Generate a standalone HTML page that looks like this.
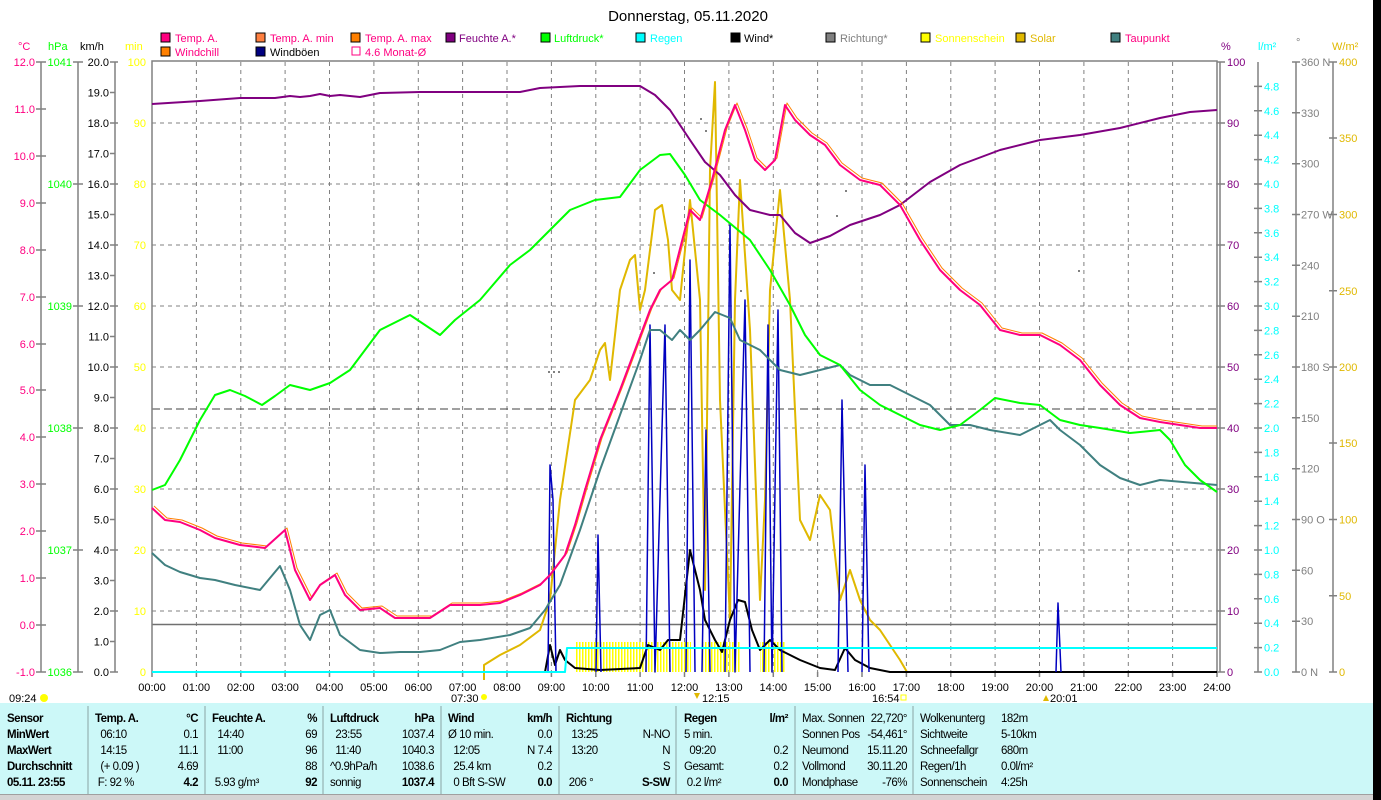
<!DOCTYPE html>
<html><head><meta charset="utf-8"><style>
html,body{margin:0;padding:0;background:#fff;}
body{width:1381px;height:800px;overflow:hidden;position:relative;font-family:"Liberation Sans",sans-serif;}
svg{position:absolute;left:0;top:0;}
.p{position:absolute;font-size:11.5px;letter-spacing:-0.5px;color:#000;white-space:nowrap;}
.b{font-weight:bold;}
.r{text-align:right;}
</style></head><body>
<svg width="1381" height="800" font-family="Liberation Sans, sans-serif" font-size="11">
<defs>
<pattern id="sun" width="3" height="30" patternUnits="userSpaceOnUse"><rect x="0" y="0" width="1.5" height="30" fill="#ffff00"/></pattern>
</defs>
<rect x="1373" y="0" width="8" height="800" fill="#000"/>
<text x="688" y="21" font-size="15" text-anchor="middle">Donnerstag, 05.11.2020</text>
<g font-size="11">
<rect x="161" y="33" width="9" height="9" fill="#ff0080" stroke="#000"/><text x="175" y="42" fill="#ff0080">Temp. A.</text>
<rect x="256" y="33" width="9" height="9" fill="#ff8040" stroke="#000"/><text x="270" y="42" fill="#ff0080">Temp. A. min</text>
<rect x="351" y="33" width="9" height="9" fill="#ff8000" stroke="#000"/><text x="365" y="42" fill="#ff0080">Temp. A. max</text>
<rect x="446" y="33" width="9" height="9" fill="#800080" stroke="#000"/><text x="459" y="42" fill="#800080">Feuchte A.*</text>
<rect x="541" y="33" width="9" height="9" fill="#00ff00" stroke="#000"/><text x="554" y="42" fill="#00ff00">Luftdruck*</text>
<rect x="636" y="33" width="9" height="9" fill="#00ffff" stroke="#000"/><text x="650" y="42" fill="#00ffff">Regen</text>
<rect x="731" y="33" width="9" height="9" fill="#000" stroke="#000"/><text x="744" y="42" fill="#000">Wind*</text>
<rect x="826" y="33" width="9" height="9" fill="#808080" stroke="#000"/><text x="840" y="42" fill="#808080">Richtung*</text>
<rect x="921" y="33" width="9" height="9" fill="#ffff00" stroke="#000"/><text x="935" y="42" fill="#ffff00">Sonnenschein</text>
<rect x="1016" y="33" width="9" height="9" fill="#e0b800" stroke="#000"/><text x="1030" y="42" fill="#e0b800">Solar</text>
<rect x="1111" y="33" width="9" height="9" fill="#408080" stroke="#000"/><text x="1125" y="42" fill="#ff0080">Taupunkt</text>
<rect x="161" y="47" width="9" height="9" fill="#ff8000" stroke="#000"/><text x="175" y="56" fill="#ff0080">Windchill</text>
<rect x="256" y="47" width="9" height="9" fill="#000080" stroke="#000"/><text x="270" y="56" fill="#000">Windböen</text>
<rect x="352" y="47" width="8" height="8" fill="none" stroke="#ff0080"/><text x="365" y="56" fill="#ff0080">4.6 Monat-Ø</text>
</g>
<text x="18" y="50" fill="#ff0080">°C</text><text x="48" y="50" fill="#00ff00">hPa</text><text x="80" y="50" fill="#000">km/h</text><text x="125" y="50" fill="#ffff00">min</text>
<text x="1221" y="50" fill="#800080">%</text><text x="1258" y="50" fill="#00ffff">l/m²</text><text x="1296" y="46" fill="#808080">°</text><text x="1332" y="50" fill="#e0b800">W/m²</text>
<g stroke="#808080" stroke-dasharray="4,4" stroke-width="1">
<path d="M152 123H1217M152 184H1217M152 245H1217M152 306H1217M152 367H1217M152 428H1217M152 489H1217M152 550H1217M152 611H1217"/>
<path d="M196.4 62V672M240.8 62V672M285.1 62V672M329.5 62V672M373.9 62V672M418.3 62V672M462.6 62V672M507 62V672M551.4 62V672M595.8 62V672M640.1 62V672M684.5 62V672M728.9 62V672M773.3 62V672M817.6 62V672M862 62V672M906.4 62V672M950.8 62V672M995.1 62V672M1039.5 62V672M1083.9 62V672M1128.3 62V672M1172.6 62V672"/>
</g>
<path d="M152 409H1217" stroke="#404040" stroke-dasharray="8,4"/>
<path d="M152 624.5H1217" stroke="#707070" stroke-width="1.5"/>
<g stroke="#808080" stroke-width="1.5" fill="none">
<path d="M152 672V61H1217V672"/>
<path d="M41 62V672M78 62V672M115 62V672M1258 62V672M1296 62V672M1333 62V672M1220 62V672"/>
<path d="M36 62h10M36 109h10M36 156h10M36 203h10M36 250h10M36 297h10M36 344h10M36 390h10M36 437h10M36 484h10M36 531h10M36 578h10M36 625h10M36 672h10"/>
<path d="M73 62h10M73 184h10M73 306h10M73 428h10M73 550h10M73 672h10"/>
<path d="M110 62h8M110 92.5h5M110 123h8M110 153.5h5M110 184h8M110 214.5h5M110 245h8M110 275.5h5M110 306h8M110 336.5h5M110 367h8M110 397.5h5M110 428h8M110 458.5h5M110 489h8M110 519.5h5M110 550h8M110 580.5h5M110 611h8M110 641.5h5M110 672h8"/>
<path d="M1217 62h8M1217 123h8M1217 184h8M1217 245h8M1217 306h8M1217 367h8M1217 428h8M1217 489h8M1217 550h8M1217 611h8M1217 672h8"/>
<path d="M1254 86.4h8M1254 110.8h8M1254 135.2h8M1254 159.6h8M1254 184h8M1254 208.4h8M1254 232.8h8M1254 257.2h8M1254 281.6h8M1254 306h8M1254 330.4h8M1254 354.8h8M1254 379.2h8M1254 403.6h8M1254 428h8M1254 452.4h8M1254 476.8h8M1254 501.2h8M1254 525.6h8M1254 550h8M1254 574.4h8M1254 598.8h8M1254 623.2h8M1254 647.6h8M1254 672h8"/>
<path d="M1292 62h8M1292 112.8h8M1292 163.7h8M1292 214.5h8M1292 265.3h8M1292 316.2h8M1292 367h8M1292 417.8h8M1292 468.7h8M1292 519.5h8M1292 570.3h8M1292 621.2h8M1292 672h8"/>
<path d="M1329 62h8M1329 138h8M1329 214.5h8M1329 290.8h8M1329 367h8M1329 443h8M1329 519.5h8M1329 595.8h8M1329 672h8"/>
<path d="M152 672v5M196.4 672v5M240.8 672v5M285.1 672v5M329.5 672v5M373.9 672v5M418.3 672v5M462.6 672v5M507 672v5M551.4 672v5M595.8 672v5M640.1 672v5M684.5 672v5M728.9 672v5M773.3 672v5M817.6 672v5M862 672v5M906.4 672v5M950.8 672v5M995.1 672v5M1039.5 672v5M1083.9 672v5M1128.3 672v5M1172.6 672v5M1217 672v5"/>
</g>
<g fill="#ff0080" text-anchor="end">
<text x="35" y="66">12.0</text><text x="35" y="113">11.0</text><text x="35" y="160">10.0</text><text x="35" y="207">9.0</text><text x="35" y="254">8.0</text><text x="35" y="301">7.0</text><text x="35" y="348">6.0</text><text x="35" y="394">5.0</text><text x="35" y="441">4.0</text><text x="35" y="488">3.0</text><text x="35" y="535">2.0</text><text x="35" y="582">1.0</text><text x="35" y="629">0.0</text><text x="35" y="676">-1.0</text>
</g>
<g fill="#00ff00" text-anchor="end">
<text x="72" y="66">1041</text><text x="72" y="188">1040</text><text x="72" y="310">1039</text><text x="72" y="432">1038</text><text x="72" y="554">1037</text><text x="72" y="676">1036</text>
</g>
<g fill="#000" text-anchor="end">
<text x="109" y="66">20.0</text><text x="109" y="96.5">19.0</text><text x="109" y="127">18.0</text><text x="109" y="157.5">17.0</text><text x="109" y="188">16.0</text><text x="109" y="218.5">15.0</text><text x="109" y="249">14.0</text><text x="109" y="279.5">13.0</text><text x="109" y="310">12.0</text><text x="109" y="340.5">11.0</text><text x="109" y="371">10.0</text><text x="109" y="401.5">9.0</text><text x="109" y="432">8.0</text><text x="109" y="462.5">7.0</text><text x="109" y="493">6.0</text><text x="109" y="523.5">5.0</text><text x="109" y="554">4.0</text><text x="109" y="584.5">3.0</text><text x="109" y="615">2.0</text><text x="109" y="645.5">1.0</text><text x="109" y="676">0.0</text>
</g>
<g fill="#ffff00" text-anchor="end">
<text x="146" y="66">100</text><text x="146" y="127">90</text><text x="146" y="188">80</text><text x="146" y="249">70</text><text x="146" y="310">60</text><text x="146" y="371">50</text><text x="146" y="432">40</text><text x="146" y="493">30</text><text x="146" y="554">20</text><text x="146" y="615">10</text><text x="146" y="676">0</text>
</g>
<g fill="#800080">
<text x="1227" y="66">100</text><text x="1227" y="127">90</text><text x="1227" y="188">80</text><text x="1227" y="249">70</text><text x="1227" y="310">60</text><text x="1227" y="371">50</text><text x="1227" y="432">40</text><text x="1227" y="493">30</text><text x="1227" y="554">20</text><text x="1227" y="615">10</text><text x="1227" y="676">0</text>
</g>
<g fill="#00ffff">
<text x="1264" y="90.4">4.8</text><text x="1264" y="114.8">4.6</text><text x="1264" y="139.2">4.4</text><text x="1264" y="163.6">4.2</text><text x="1264" y="188">4.0</text><text x="1264" y="212.4">3.8</text><text x="1264" y="236.8">3.6</text><text x="1264" y="261.2">3.4</text><text x="1264" y="285.6">3.2</text><text x="1264" y="310">3.0</text><text x="1264" y="334.4">2.8</text><text x="1264" y="358.8">2.6</text><text x="1264" y="383.2">2.4</text><text x="1264" y="407.6">2.2</text><text x="1264" y="432">2.0</text><text x="1264" y="456.4">1.8</text><text x="1264" y="480.8">1.6</text><text x="1264" y="505.2">1.4</text><text x="1264" y="529.6">1.2</text><text x="1264" y="554">1.0</text><text x="1264" y="578.4">0.8</text><text x="1264" y="602.8">0.6</text><text x="1264" y="627.2">0.4</text><text x="1264" y="651.6">0.2</text><text x="1264" y="676">0.0</text>
</g>
<g fill="#808080">
<text x="1301" y="66">360 N</text><text x="1301" y="116.8">330</text><text x="1301" y="167.7">300</text><text x="1301" y="218.5">270 W</text><text x="1301" y="269.3">240</text><text x="1301" y="320.2">210</text><text x="1301" y="371">180 S</text><text x="1301" y="421.8">150</text><text x="1301" y="472.7">120</text><text x="1301" y="523.5">90 O</text><text x="1301" y="574.3">60</text><text x="1301" y="625.2">30</text><text x="1301" y="676">0 N</text>
</g>
<g fill="#e0b800">
<text x="1339" y="66">400</text><text x="1339" y="142">350</text><text x="1339" y="218.5">300</text><text x="1339" y="294.8">250</text><text x="1339" y="371">200</text><text x="1339" y="447">150</text><text x="1339" y="523.5">100</text><text x="1339" y="599.8">50</text><text x="1339" y="676">0</text>
</g>
<g fill="#000" text-anchor="middle">
<text x="152" y="691">00:00</text><text x="196.4" y="691">01:00</text><text x="240.8" y="691">02:00</text><text x="285.1" y="691">03:00</text><text x="329.5" y="691">04:00</text><text x="373.9" y="691">05:00</text><text x="418.3" y="691">06:00</text><text x="462.6" y="691">07:00</text><text x="507" y="691">08:00</text><text x="551.4" y="691">09:00</text><text x="595.8" y="691">10:00</text><text x="640.1" y="691">11:00</text><text x="684.5" y="691">12:00</text><text x="728.9" y="691">13:00</text><text x="773.3" y="691">14:00</text><text x="817.6" y="691">15:00</text><text x="862" y="691">16:00</text><text x="906.4" y="691">17:00</text><text x="950.8" y="691">18:00</text><text x="995.1" y="691">19:00</text><text x="1039.5" y="691">20:00</text><text x="1083.9" y="691">21:00</text><text x="1128.3" y="691">22:00</text><text x="1172.6" y="691">23:00</text><text x="1217" y="691">24:00</text>
</g>
<g fill="#000">
<text x="9" y="702">09:24</text><circle cx="44" cy="698" r="4" fill="#ffff00"/>
<text x="451" y="702">07:30</text><circle cx="484" cy="697" r="3" fill="#ffff00"/>
<text x="702" y="702">12:15</text><path d="M694 693l3 6 3-6z" fill="#e0b800"/>
<text x="872" y="702">16:54</text><rect x="901" y="695" width="5" height="5" fill="none" stroke="#ffff00"/>
<text x="1050" y="702">20:01</text><path d="M1043 701l3-6 3 6z" fill="#e0b800"/>
</g>
<rect x="575" y="642" width="116" height="30" fill="url(#sun)"/>
<rect x="703" y="642" width="38" height="30" fill="url(#sun)"/>
<rect x="760" y="642" width="26" height="30" fill="url(#sun)"/>
<g fill="none" stroke-linejoin="round">
<polyline stroke="#e0b800" stroke-width="2" points="484,680 484,665 500,655 520,645 540,630 550,600 560,500 575,400 590,380 600,350 605,343 610,380 620,290 630,260 635,255 640,310 645,290 655,210 662,205 668,240 672,290 680,300 690,200 700,300 705,590 710,170 715,82 720,400 730,620 735,300 740,180 750,330 760,600 765,500 770,290 780,190 790,300 800,520 810,540 820,495 830,510 840,600 850,570 860,600 870,620 880,630 890,645 900,660 907,672"/>
<polyline stroke="#000" stroke-width="2" points="152,672 545,672 550,645 555,665 560,650 565,660 575,668 600,670 640,668 648,645 660,650 668,640 680,640 690,550 700,590 705,620 715,640 722,652 730,620 738,600 745,602 752,630 760,650 770,640 780,650 800,660 820,668 835,670 845,648 855,660 870,668 890,672 1217,672"/>
<g stroke="#0000c0" stroke-width="1.5">
<polyline points="548,672 550,465 553,500 556,672"/>
<polyline points="596,672 598,535 601,672"/>
<polyline points="646,672 650,325 655,672 665,325 670,672"/>
<polyline points="686,672 690,260 695,672"/>
<polyline points="702,672 706,430 710,672"/>
<polyline points="725,672 730,225 735,672 745,300 750,672"/>
<polyline points="764,672 768,325 772,672 778,310 782,672"/>
<polyline points="838,672 842,400 848,672"/>
<polyline points="862,672 865,465 869,672"/>
<polyline points="1056,672 1058,603 1061,672"/>
</g>
<polyline stroke="#00ffff" stroke-width="2" points="152,672 565,672 567,648 1217,648"/>
<polyline stroke="#408080" stroke-width="2" points="152,553 165,565 180,572 200,578 215,580 235,585 260,590 280,566 290,590 300,625 310,640 320,615 330,610 340,635 360,650 380,653 400,652 420,652 440,650 460,642 480,640 510,635 530,628 545,610 560,585 580,530 600,470 620,415 640,360 650,330 660,330 672,340 680,330 690,340 700,330 715,312 730,318 740,340 760,350 780,370 800,375 820,370 840,365 850,375 870,385 890,385 910,395 930,405 950,425 970,425 990,430 1020,435 1040,425 1050,420 1060,430 1080,445 1100,465 1120,478 1140,485 1160,480 1217,485"/>
<polyline stroke="#00ff00" stroke-width="2" points="152,490 165,485 180,460 200,420 215,395 230,390 245,396 262,405 275,396 290,385 310,390 330,383 350,370 365,350 380,330 400,320 410,315 425,325 440,335 455,320 480,300 510,265 530,250 550,230 570,210 595,200 620,197 640,170 660,155 670,154 685,175 700,200 720,215 750,240 770,270 790,305 805,335 820,355 840,365 860,390 880,405 900,415 920,425 940,430 960,425 980,410 995,398 1020,403 1040,405 1060,420 1080,425 1100,428 1130,433 1160,430 1170,440 1185,465 1200,480 1217,492"/>
<polyline stroke="#800080" stroke-width="2" points="152,104 200,101 240,98 275,98 290,96 300,97 310,96 320,94 330,96 340,95 360,97 380,93 420,92 520,92 540,88 580,86 640,86 655,95 670,110 690,140 705,162 720,175 735,195 750,210 770,215 780,215 795,233 810,243 830,236 850,225 880,215 900,205 930,182 960,165 1000,150 1040,140 1080,135 1120,128 1160,118 1190,112 1217,110"/>
<polyline stroke="#ff8000" stroke-width="1" points="154,506 167,518 182,520 202,528 217,536 242,543 267,546 287,528 297,568 312,598 322,583 337,573 347,593 362,608 382,606 397,616 432,616 452,603 482,603 502,601 522,593 542,583 552,573 567,553 577,523 587,488 602,438 622,388 637,348 652,308 662,288 674,278 692,208 702,218 714,178 727,128 737,103 747,128 757,158 767,168 777,158 787,103 797,118 812,133 827,143 842,163 862,178 882,183 902,203 922,238 942,268 962,288 982,303 1002,328 1022,333 1042,333 1062,343 1082,358 1102,383 1122,403 1142,416 1162,420 1202,426 1217,426"/>
<polyline stroke="#ff0080" stroke-width="2" points="152,508 165,520 180,522 200,530 215,538 240,545 265,548 285,530 295,570 310,600 320,585 335,575 345,595 360,610 380,608 395,618 430,618 450,605 480,605 500,603 520,595 540,585 550,575 565,555 575,525 585,490 600,440 620,390 635,350 650,310 660,290 672,280 690,210 700,220 712,180 725,130 735,105 745,130 755,160 765,170 775,160 785,105 795,120 810,135 825,145 840,165 860,180 880,185 900,205 920,240 940,270 960,290 980,305 1000,330 1020,335 1040,335 1060,345 1080,360 1100,385 1120,405 1140,418 1160,422 1200,428 1217,428"/>
</g>
<g fill="#808080">
<rect x="548" y="371" width="2" height="2"/><rect x="553" y="371" width="2" height="2"/><rect x="558" y="371" width="2" height="2"/>
<rect x="653" y="272" width="2" height="2"/><rect x="700" y="118" width="2" height="2"/><rect x="705" y="130" width="2" height="2"/>
<rect x="740" y="290" width="2" height="2"/><rect x="836" y="215" width="2" height="2"/><rect x="845" y="190" width="2" height="2"/>
<rect x="1078" y="270" width="2" height="2"/>
</g>
<rect x="0" y="703" width="1373" height="91" fill="#ccf8f8"/>
<g stroke="#a0c0c0" stroke-width="1.5"><path d="M88 706V794M205 706V794M323 706V794M441 706V794M559 706V794M676 706V794M795 706V794M913 706V794"/></g>
<rect x="0" y="794" width="1373" height="6" fill="#d4d4d4"/>
<path d="M0 794.5H1373" stroke="#a0a0a0"/>
</svg>
<div class="p b" style="left:7px;top:711px;line-height:16px">Sensor<br>MinWert<br>MaxWert<br>Durchschnitt<br>05.11. 23:55</div>
<div class="p" style="left:95px;top:711px;line-height:16px"><b>Temp. A.</b><br>&nbsp; 06:10<br>&nbsp; 14:15<br>&nbsp; (+ 0.09 )<br>&nbsp;F: 92 %</div>
<div class="p r" style="left:150px;width:48px;top:711px;line-height:16px"><b>°C</b><br>0.1<br>11.1<br>4.69<br><b>4.2</b></div>
<div class="p" style="left:212px;top:711px;line-height:16px"><b>Feuchte A.</b><br>&nbsp; 14:40<br>&nbsp; 11:00<br>&nbsp;<br>&nbsp;5.93 g/m³</div>
<div class="p r" style="left:270px;width:47px;top:711px;line-height:16px"><b>%</b><br>69<br>96<br>88<br><b>92</b></div>
<div class="p" style="left:330px;top:711px;line-height:16px"><b>Luftdruck</b><br>&nbsp; 23:55<br>&nbsp; 11:40<br>^0.9hPa/h<br>sonnig</div>
<div class="p r" style="left:385px;width:49px;top:711px;line-height:16px"><b>hPa</b><br>1037.4<br>1040.3<br>1038.6<br><b>1037.4</b></div>
<div class="p" style="left:448px;top:711px;line-height:16px"><b>Wind</b><br>Ø 10 min.<br>&nbsp; 12:05<br>&nbsp; 25.4 km<br>&nbsp; 0 Bft S-SW</div>
<div class="p r" style="left:505px;width:47px;top:711px;line-height:16px"><b>km/h</b><br>0.0<br>N 7.4<br>0.2<br><b>0.0</b></div>
<div class="p" style="left:566px;top:711px;line-height:16px"><b>Richtung</b><br>&nbsp; 13:25<br>&nbsp; 13:20<br>&nbsp;<br>&nbsp;206 °</div>
<div class="p r" style="left:620px;width:50px;top:711px;line-height:16px">&nbsp;<br>N-NO<br>N<br>S<br><b>S-SW</b></div>
<div class="p" style="left:684px;top:711px;line-height:16px"><b>Regen</b><br>5 min.<br>&nbsp; 09:20<br>Gesamt:<br>&nbsp;0.2 l/m²</div>
<div class="p r" style="left:740px;width:48px;top:711px;line-height:16px"><b>l/m²</b><br>&nbsp;<br>0.2<br>0.2<br><b>0.0</b></div>
<div class="p" style="left:802px;top:711px;line-height:16px">Max. Sonnen<br>Sonnen Pos<br>Neumond<br>Vollmond<br>Mondphase</div>
<div class="p r" style="left:850px;width:57px;top:711px;line-height:16px">22,720°<br>-54,461°<br>15.11.20<br>30.11.20<br>-76%</div>
<div class="p" style="left:920px;top:711px;line-height:16px">Wolkenunterg<br>Sichtweite<br>Schneefallgr<br>Regen/1h<br>Sonnenschein</div>
<div class="p" style="left:1001px;top:711px;line-height:16px">182m<br>5-10km<br>680m<br>0.0l/m²<br>4:25h</div>
</body></html>
